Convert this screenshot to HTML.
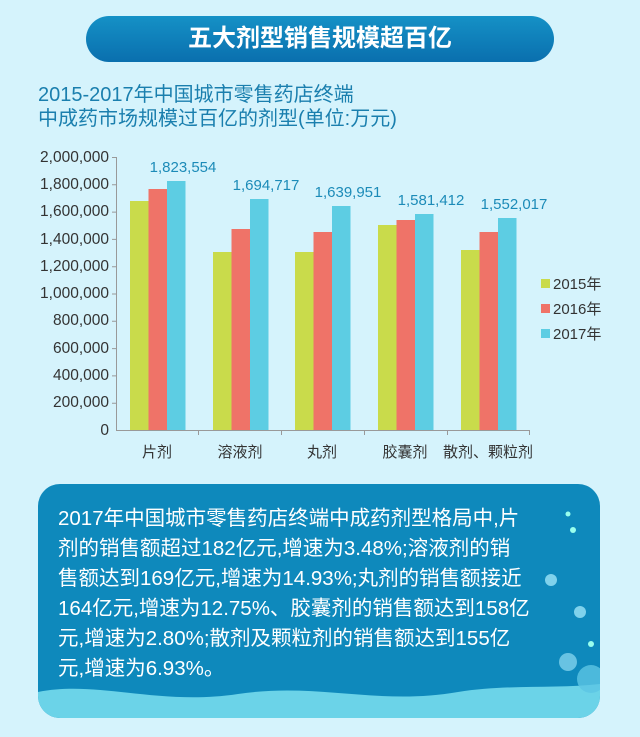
<!DOCTYPE html>
<html><head><meta charset="utf-8"><style>
body{margin:0;width:640px;height:737px;background:#d5f3fc;overflow:hidden;position:relative;font-family:"Liberation Sans","Noto Sans CJK SC",sans-serif}
.pill{position:absolute;left:86px;top:16px;width:468px;height:46px;border-radius:23px;background:linear-gradient(180deg,#1591c6,#0a6fae);color:#fff;font-weight:bold;font-size:24px;text-align:center;line-height:46px}
.sub{position:absolute;left:38px;top:83px;color:#1a7fae;font-size:20px;line-height:24px;white-space:nowrap}
.box{position:absolute;left:38px;top:484px;width:562px;height:234px;border-radius:22px;background:#0e89bc;overflow:hidden}
.txt{position:absolute;left:20px;top:20px;color:#fff;font-size:20.5px;line-height:30px;white-space:nowrap}
</style></head><body>
<div class="pill">五大剂型销售规模超百亿</div>
<div class="sub">2015-2017年中国城市零售药店终端<br>中成药市场规模过百亿的剂型(单位:万元)</div>
<svg width="640" height="470" style="position:absolute;left:0;top:0" font-family="Liberation Sans, Noto Sans CJK SC, sans-serif">
<g font-size="15.5" fill="#333" text-anchor="end">
<text x="109" y="162">2,000,000</text><text x="109" y="189">1,800,000</text><text x="109" y="216">1,600,000</text><text x="109" y="244">1,400,000</text><text x="109" y="271">1,200,000</text><text x="109" y="298">1,000,000</text><text x="109" y="325">800,000</text><text x="109" y="353">600,000</text><text x="109" y="380">400,000</text><text x="109" y="407">200,000</text><text x="109" y="435">0</text>
</g>
<g stroke="#999" stroke-width="1" fill="none">
<path d="M116.5 157V430.5H529"/>
<path d="M112 157.5h4M112 184.8h4M112 212.1h4M112 239.4h4M112 266.7h4M112 294h4M112 321.3h4M112 348.6h4M112 375.9h4M112 403.2h4"/>
<path d="M198.5 430v5M281.5 430v5M364.5 430v5M447.5 430v5M529.5 430v5"/>
</g>
<g fill="#c9db4b">
<rect x="130" y="201" width="18.5" height="229"/><rect x="213" y="252" width="18.5" height="178"/><rect x="295" y="252" width="18.5" height="178"/><rect x="378" y="225" width="18.5" height="205"/><rect x="461" y="250" width="18.5" height="180"/>
</g>
<g fill="#ef7368">
<rect x="148.5" y="189" width="18.5" height="241"/><rect x="231.5" y="229" width="18.5" height="201"/><rect x="313.5" y="232" width="18.5" height="198"/><rect x="396.5" y="220" width="18.5" height="210"/><rect x="479.5" y="232" width="18.5" height="198"/>
</g>
<g fill="#5dcde3">
<rect x="167" y="181" width="18.5" height="249"/><rect x="250" y="199" width="18.5" height="231"/><rect x="332" y="206" width="18.5" height="224"/><rect x="415" y="214" width="18.5" height="216"/><rect x="498" y="218" width="18.5" height="212"/>
</g>
<g font-size="15" fill="#1c8bb8" text-anchor="middle">
<text x="183" y="172">1,823,554</text><text x="266" y="190">1,694,717</text><text x="348" y="197">1,639,951</text><text x="431" y="205">1,581,412</text><text x="514" y="209">1,552,017</text>
</g>
<g font-size="15" fill="#333" text-anchor="middle">
<text x="157" y="457">片剂</text><text x="240" y="457">溶液剂</text><text x="322" y="457">丸剂</text><text x="405" y="457">胶囊剂</text><text x="488" y="457">散剂、颗粒剂</text>
</g>
<rect x="541" y="279" width="9" height="9" fill="#c9db4b"/><rect x="541" y="304" width="9" height="9" fill="#ef7368"/><rect x="541" y="329" width="9" height="9" fill="#5dcde3"/>
<g font-size="15" fill="#333"><text x="553" y="289">2015年</text><text x="553" y="314">2016年</text><text x="553" y="339">2017年</text></g>
</svg>
<div class="box">
<svg width="562" height="234" style="position:absolute;left:0;top:0">
<path d="M0 208 C60 196 120 222 200 210 C280 198 340 222 420 208 C470 200 520 205 562 200 V234 H0Z" fill="#6bd3e8"/>
<circle cx="513" cy="96" r="6" fill="#7fd2ec"/><circle cx="542" cy="128" r="6" fill="#7fd2ec"/><circle cx="530" cy="178" r="9" fill="#7fd2ec" opacity=".8"/><circle cx="553" cy="195" r="14" fill="#5cc6e4" opacity=".8"/><circle cx="530" cy="30" r="2.5" fill="#9fe"/><circle cx="535" cy="46" r="3" fill="#9fe"/><circle cx="553" cy="160" r="3" fill="#9fe"/>
</svg>
<div class="txt">2017年中国城市零售药店终端中成药剂型格局中,片<br>剂的销售额超过182亿元,增速为3.48%;溶液剂的销<br>售额达到169亿元,增速为14.93%;丸剂的销售额接近<br>164亿元,增速为12.75%、胶囊剂的销售额达到158亿<br>元,增速为2.80%;散剂及颗粒剂的销售额达到155亿<br>元,增速为6.93%。</div>
</div>
</body></html>
